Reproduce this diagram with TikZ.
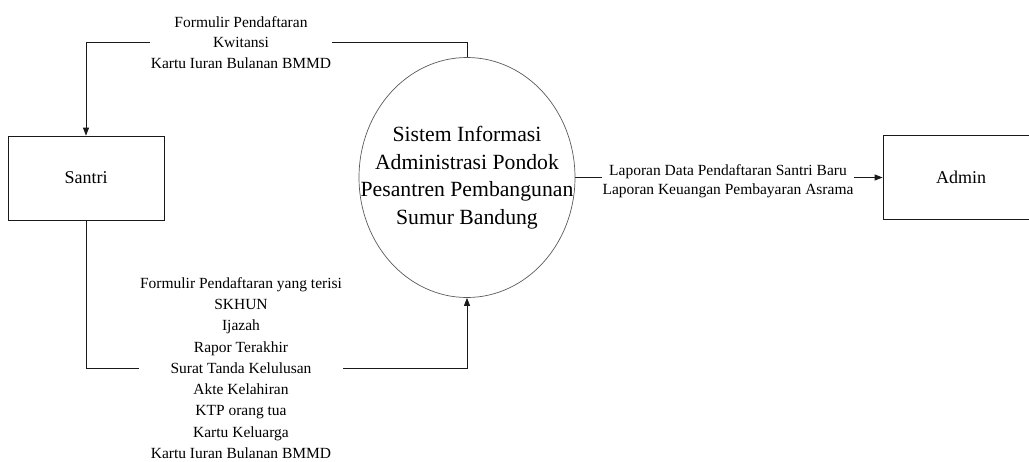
\documentclass[tikz,border=0pt]{standalone}
\usepackage{fontspec}
\setmainfont{Liberation Serif}
\newfontfamily\tnr{Liberation Serif}
\usetikzlibrary{shapes.geometric,arrows.meta,backgrounds}
\tikzset{
  entity/.style={draw=black!90, line width=0.8pt, minimum width=156pt, minimum height=84pt, inner sep=0pt, font=\tnr\fontsize{18}{22}\selectfont},
  proc/.style={ellipse, draw=black!65, line width=0.7pt, minimum width=216pt, minimum height=240pt, inner sep=0pt},
  proctext/.style={align=center, inner sep=0pt, font=\tnr\fontsize{21.7}{27.5}\selectfont},
  flowlabel/.style={fill=white, align=center, inner xsep=1pt, inner ysep=0pt},
  flow/.style={draw=black!90, line width=0.8pt, -{Triangle[width=6pt,length=8pt]}}
}
\begin{document}
\begin{tikzpicture}[x=1pt,y=-1pt]
\useasboundingbox (0,0) rectangle (1029,461);
\node[entity] (santri) at (86,178) {Santri};
\node[entity] (admin) at (961,177.5) {Admin};
\node[proc] (sys) at (467,177.5) {};
\node[proctext] (systext) at (sys.center) {Sistem Informasi\\Administrasi Pondok\\Pesantren Pembangunan\\Sumur Bandung};
\node[flowlabel, font=\tnr\fontsize{15.5}{20.5}\selectfont] (tlab) at (241,42.5) {Formulir Pendaftaran\\Kwitansi\\Kartu Iuran Bulanan BMMD};
\node[flowlabel, font=\tnr\fontsize{15.5}{21.25}\selectfont] (blab) at (241,368) {Formulir Pendaftaran yang terisi\\SKHUN\\Ijazah\\Rapor Terakhir\\Surat Tanda Kelulusan\\Akte Kelahiran\\KTP orang tua\\Kartu Keluarga\\Kartu Iuran Bulanan BMMD};
\node[flowlabel, font=\tnr\fontsize{15.5}{19}\selectfont] (rlab) at (728,181) {Laporan Data Pendaftaran Santri Baru\\Laporan Keuangan Pembayaran Asrama};
\begin{scope}[on background layer]
\draw[flow] (sys.north) -- (sys.north |- tlab.center) -- (santri.north |- tlab.center) -- (santri.north);
\draw[flow] (santri.south) -- (santri.south |- blab.center) -- (sys.south |- blab.center) -- (sys.south);
\draw[flow] (sys.east) -- (admin.west);
\end{scope}
\end{tikzpicture}
\end{document}
